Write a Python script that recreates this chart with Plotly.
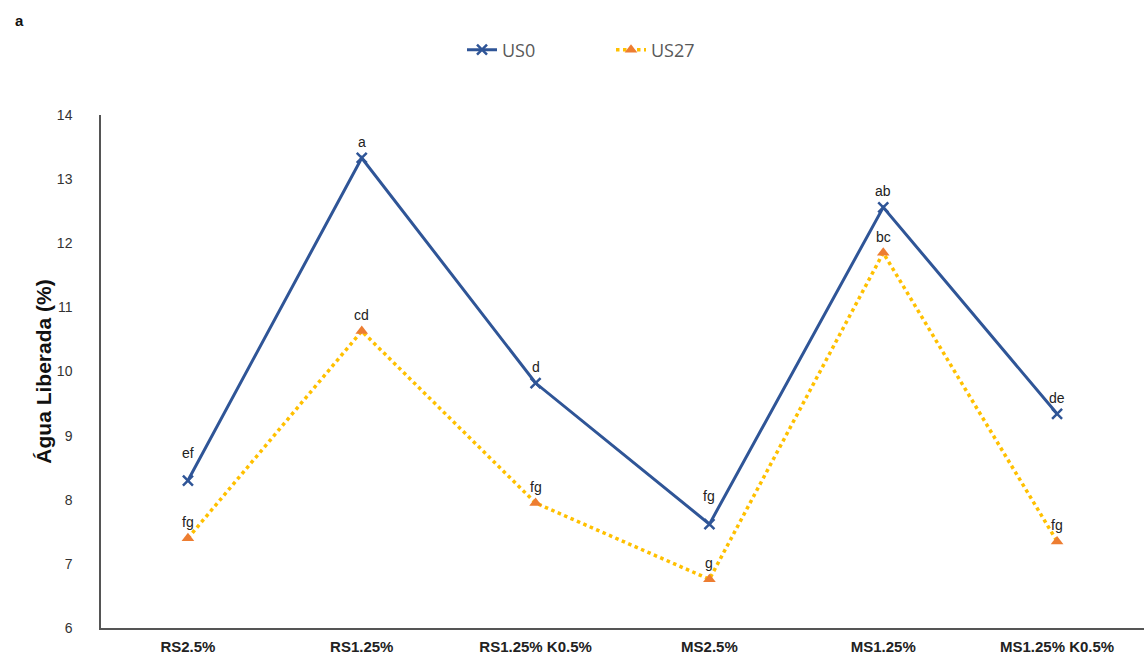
import plotly.graph_objects as go

categories = ["RS2.5%", "RS1.25%", "RS1.25% K0.5%", "MS2.5%", "MS1.25%", "MS1.25% K0.5%"]
us0 = [8.3, 13.33, 9.82, 7.62, 12.56, 9.34]
us27 = [7.4, 10.63, 7.95, 6.76, 11.85, 7.35]
us0_letters = ["ef", "a", "d", "fg", "ab", "de"]
us27_letters = ["fg", "cd", "fg", "g", "bc", "fg"]
us0_shift = [24, 12, 12, 24, 12, 12]
us27_shift = [12, 12, 12, 12, 12, 12]

fig = go.Figure()
fig.add_trace(go.Scatter(
    x=categories, y=us0, name="US0", mode="lines+markers",
    line=dict(color="#2F5597", width=3),
    marker=dict(symbol="x-thin", size=10, line=dict(color="#2F5597", width=2.5)),
))
fig.add_trace(go.Scatter(
    x=categories, y=us27, name="US27", mode="lines+markers",
    line=dict(color="#FFC000", width=3.5, dash="dot"),
    marker=dict(symbol="triangle-up", size=11, color="#ED7D31"),
))

for cat, v, t, s in zip(categories, us0, us0_letters, us0_shift):
    fig.add_annotation(x=cat, y=v, text=t, showarrow=False, yshift=s + 4,
                       font=dict(family="Liberation Sans, Arial", size=14, color="#222"))
for cat, v, t, s in zip(categories, us27, us27_letters, us27_shift):
    fig.add_annotation(x=cat, y=v, text=t, showarrow=False, yshift=s + 4,
                       font=dict(family="Liberation Sans, Arial", size=14, color="#222"))

fig.add_annotation(text="<b>a</b>", xref="paper", yref="paper", x=(13 - 101) / 1043, y=(628 - 20) / 513,
                   xanchor="left", yanchor="middle", showarrow=False,
                   font=dict(family="Liberation Sans, Arial", size=15, color="#111"))

fig.update_layout(
    width=1144, height=657,
    margin=dict(l=101, r=0, t=115, b=29),
    plot_bgcolor="white", paper_bgcolor="white",
    font=dict(family="Liberation Sans, Arial", color="#333"),
    legend=dict(orientation="h", xref="container", yref="container",
                x=462 / 1144, y=1 - 50 / 657, xanchor="left", yanchor="middle",
                font=dict(family="Open Sans, Liberation Sans", size=18, color="#595959"),
                entrywidth=104),
    xaxis=dict(type="category", range=[-0.5, 5.5], showgrid=False,
               showline=True, linecolor="#555", linewidth=1.5,
               tickfont=dict(family="Liberation Sans, Arial", size=15, color="#222"),
               tickprefix="<b>", ticksuffix="</b>", ticks="", ticklabelstandoff=4),
    yaxis=dict(range=[6, 14], dtick=1, showgrid=False, zeroline=False,
               showline=True, linecolor="#555", linewidth=1.5, ticks="",
               tickfont=dict(family="Liberation Sans, Arial", size=14, color="#333"),
               ticklabelstandoff=24,
               title=dict(text="<b>Água Liberada (%)</b>", standoff=0,
                          font=dict(family="Liberation Sans, Arial", size=21, color="#111"))),
)

fig.write_html("out.html")
